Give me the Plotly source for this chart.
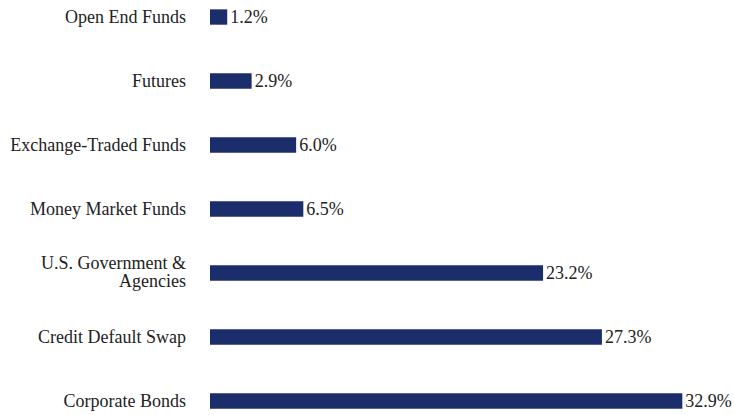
import plotly.graph_objects as go

categories = ["Corporate Bonds", "Credit Default Swap", "U.S. Government & Agencies",
              "Money Market Funds", "Exchange-Traded Funds", "Futures", "Open End Funds"]
tick_labels = ["Corporate Bonds", "Credit Default Swap", "",
               "Money Market Funds", "Exchange-Traded Funds", "Futures", "Open End Funds"]
wrapped_label = ["U.S. Government &", "Agencies"]
values = [32.9, 27.3, 23.2, 6.5, 6.0, 2.9, 1.2]
value_labels = [f"{v:.1f}%" for v in values]

FONT = "Liberation Serif"
TXT = "#222222"

fig = go.Figure(go.Bar(
    x=values, y=categories, orientation="h",
    marker=dict(color="#1c2d6b", line=dict(width=0)),
    width=0.24,
    text=value_labels, textposition="outside", cliponaxis=False,
    constraintext="none",
    textfont=dict(family=FONT, size=18, color=TXT),
))

for line, shift in zip(wrapped_label, [10, -8]):
    fig.add_annotation(
        x=0, xref="paper", xanchor="right", xshift=-23,
        y=categories[2], yref="y", yanchor="middle", yshift=shift,
        text=line, showarrow=False, borderpad=0,
        font=dict(family=FONT, size=18, color=TXT),
    )

fig.update_layout(
    width=734, height=415,
    margin=dict(l=210, r=0, t=0, b=0, autoexpand=False),
    paper_bgcolor="white", plot_bgcolor="white",
    font=dict(family=FONT, size=18, color=TXT),
    showlegend=False,
    xaxis=dict(range=[0, 36.5], visible=False),
    yaxis=dict(range=[-0.219, 6.266], showgrid=False, zeroline=False, automargin=False,
               ticks="", ticklabelstandoff=23, showline=False,
               tickmode="array", tickvals=categories, ticktext=tick_labels),
)

fig.write_html("out.html", config={"displayModeBar": False},
               post_script="document.body.style.margin='0';document.body.style.overflow='hidden';")
